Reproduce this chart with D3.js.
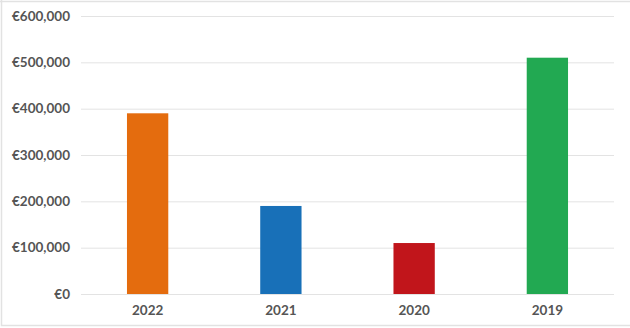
<!DOCTYPE html>
<html><head><meta charset="utf-8">
<script src="https://cdn.jsdelivr.net/npm/d3@7"></script>
<style>html,body{margin:0;padding:0;background:#fff;}svg{display:block;}</style>
</head><body>
<svg id="c" width="630" height="328"></svg>
<script>
const categories = ["2022", "2021", "2020", "2019"];
const values = [390000, 190000, 110000, 510000];
const colors = ["#E46C0E", "#1870B8", "#C1151B", "#22A952"];
const yTicks = [0, 100000, 200000, 300000, 400000, 500000, 600000];

const svg = d3.select("#c");
const W = 630, H = 328;
const m = {left: 81, right: 16, top: 16, bottom: 34};

// frame
svg.append("path").attr("d", `M1.5,0 V325.5 H630 M0,1.5 H630`)
  .attr("fill", "none").attr("stroke", "#e2e2e2").attr("stroke-width", 1.5);

const x = d3.scaleBand().domain(categories).range([m.left, W - m.right]).paddingInner(0.69).paddingOuter(0.345);
const y = d3.scaleLinear().domain([0, 600000]).range([H - m.bottom, m.top]);

const fmt = v => "€" + d3.format(",")(v);

const yAxis = svg.append("g").attr("transform", `translate(${m.left},0)`)
  .call(d3.axisLeft(y).tickValues(yTicks).tickFormat(fmt).tickSize(-(W - m.left - m.right)).tickPadding(11));
yAxis.select(".domain").remove();
yAxis.selectAll(".tick line").attr("stroke", "#e3e3e3").attr("stroke-width", 1);
yAxis.selectAll(".tick text").attr("fill", "#555").attr("font-family", "Lato, 'Open Sans', sans-serif")
  .attr("font-weight", "bold").attr("font-size", 13.5);

svg.append("g").selectAll("rect").data(categories).join("rect")
  .attr("x", d => x(d)).attr("width", x.bandwidth())
  .attr("y", (d, i) => y(values[i])).attr("height", (d, i) => y(0) - y(values[i]))
  .attr("fill", (d, i) => colors[i]);

const xAxis = svg.append("g").attr("transform", `translate(0,${H - m.bottom})`)
  .call(d3.axisBottom(x).tickSize(0).tickPadding(11));
xAxis.select(".domain").remove();
xAxis.selectAll(".tick text").attr("fill", "#555").attr("font-family", "Lato, 'Open Sans', sans-serif")
  .attr("font-weight", "bold").attr("font-size", 13.5);
</script>
</body></html>
